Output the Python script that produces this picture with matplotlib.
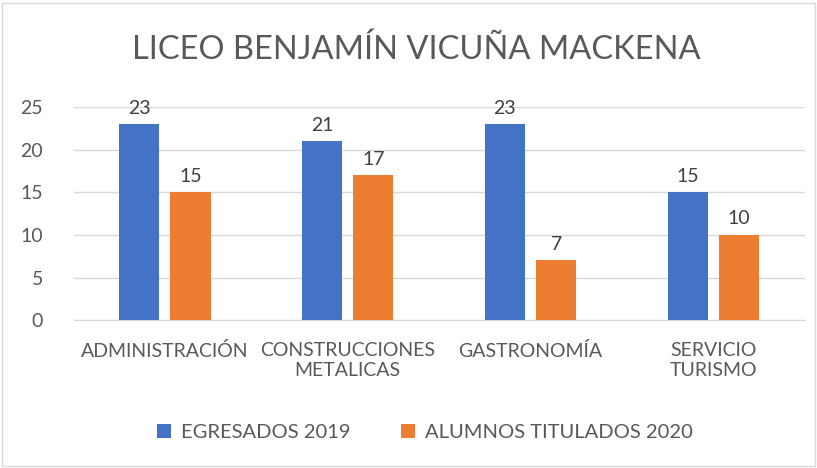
import numpy as np
import matplotlib
matplotlib.use("Agg")
import matplotlib.pyplot as plt
from matplotlib.patches import Rectangle

categories = ["ADMINISTRACIÓN", "CONSTRUCCIONES\nMETALICAS", "GASTRONOMÍA", "SERVICIO\nTURISMO"]
egresados_2019 = [23, 21, 23, 15]
titulados_2020 = [15, 17, 7, 10]
series_names = ["EGRESADOS 2019", "ALUMNOS TITULADOS 2020"]
title = "LICEO BENJAMÍN VICUÑA MACKENA"

plt.rcParams['font.family'] = ['Lato', 'DejaVu Sans']
txt = "#595959"

fig = plt.figure(figsize=(8.17, 4.68), dpi=100)
fig.patches.append(Rectangle((0.003, 0.004), 0.994, 0.99, transform=fig.transFigure,
                             fill=False, edgecolor="#D9D9D9", lw=1))
ax = fig.add_axes([0.090, 0.316, 0.895, 0.455])

x = np.arange(len(categories))
w = 0.22
off = 0.14
b1 = ax.bar(x - off, egresados_2019, w, color="#4472C4", label=series_names[0], zorder=3)
b2 = ax.bar(x + off, titulados_2020, w, color="#ED7D31", label=series_names[1], zorder=3)
for bars in (b1, b2):
    for r in bars:
        ax.text(r.get_x() + r.get_width() / 2, r.get_height() + 0.9, str(int(r.get_height())),
                ha="center", va="bottom", fontsize=14, color="#404040")

ax.set_xlim(-0.5, len(categories) - 0.5)
ax.set_ylim(0, 25)
ax.set_yticks([0, 5, 10, 15, 20, 25])
ax.yaxis.grid(True, color="#D9D9D9", lw=1, zorder=0)
for s in ["top", "right", "left"]:
    ax.spines[s].set_visible(False)
ax.spines["bottom"].set_color("#D9D9D9")
ax.tick_params(axis="both", length=0, labelsize=14, colors=txt)
ax.tick_params(axis="y", pad=22)
ax.tick_params(axis="x", pad=16)
ax.set_xticks(x)
ax.set_xticklabels(categories, linespacing=1.2)

fig.text(0.51, 0.893, title, ha="center", va="center", fontsize=23.5, color=txt)
fig.legend(loc="center", bbox_to_anchor=(0.52, 0.075), ncol=2, frameon=False,
           fontsize=14.5, labelcolor=txt, handlelength=0.7, handleheight=0.7,
           columnspacing=2.5, handletextpad=0.5)

fig.savefig("out.png", dpi=100)
